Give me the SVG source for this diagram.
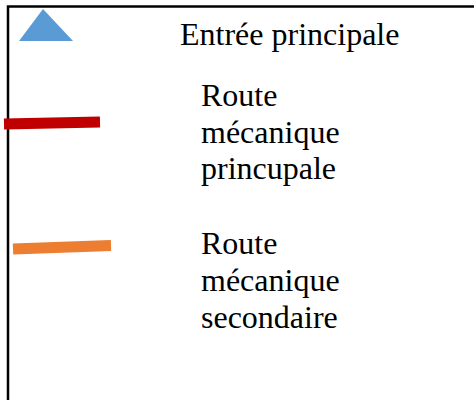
<svg xmlns="http://www.w3.org/2000/svg" width="474" height="400" viewBox="0 0 474 400">
<style>
text{font-family:"Liberation Serif","Times New Roman",serif;font-size:32px;fill:#000}
.frame{fill:none;stroke:#000;stroke-width:2.5}
</style>
<rect width="474" height="400" fill="#fff"/>
<path class="frame" d="M8,410 V6.5 H480"/>
<g id="entree">
<polygon points="43,9 19,41 73,41" fill="#5B9BD5"/>
<text x="180" y="45">Entrée principale</text>
</g>
<g id="route-principale">
<line x1="4" y1="124" x2="100" y2="122" stroke="#C00000" stroke-width="11"/>
<text x="201" y="106">Route</text>
<text x="201" y="143">mécanique</text>
<text x="201" y="179">princupale</text>
</g>
<g id="route-secondaire">
<line x1="13" y1="249" x2="111" y2="245.5" stroke="#ED7D31" stroke-width="11"/>
<text x="201" y="254">Route</text>
<text x="201" y="291">mécanique</text>
<text x="201" y="328">secondaire</text>
</g>
</svg>
